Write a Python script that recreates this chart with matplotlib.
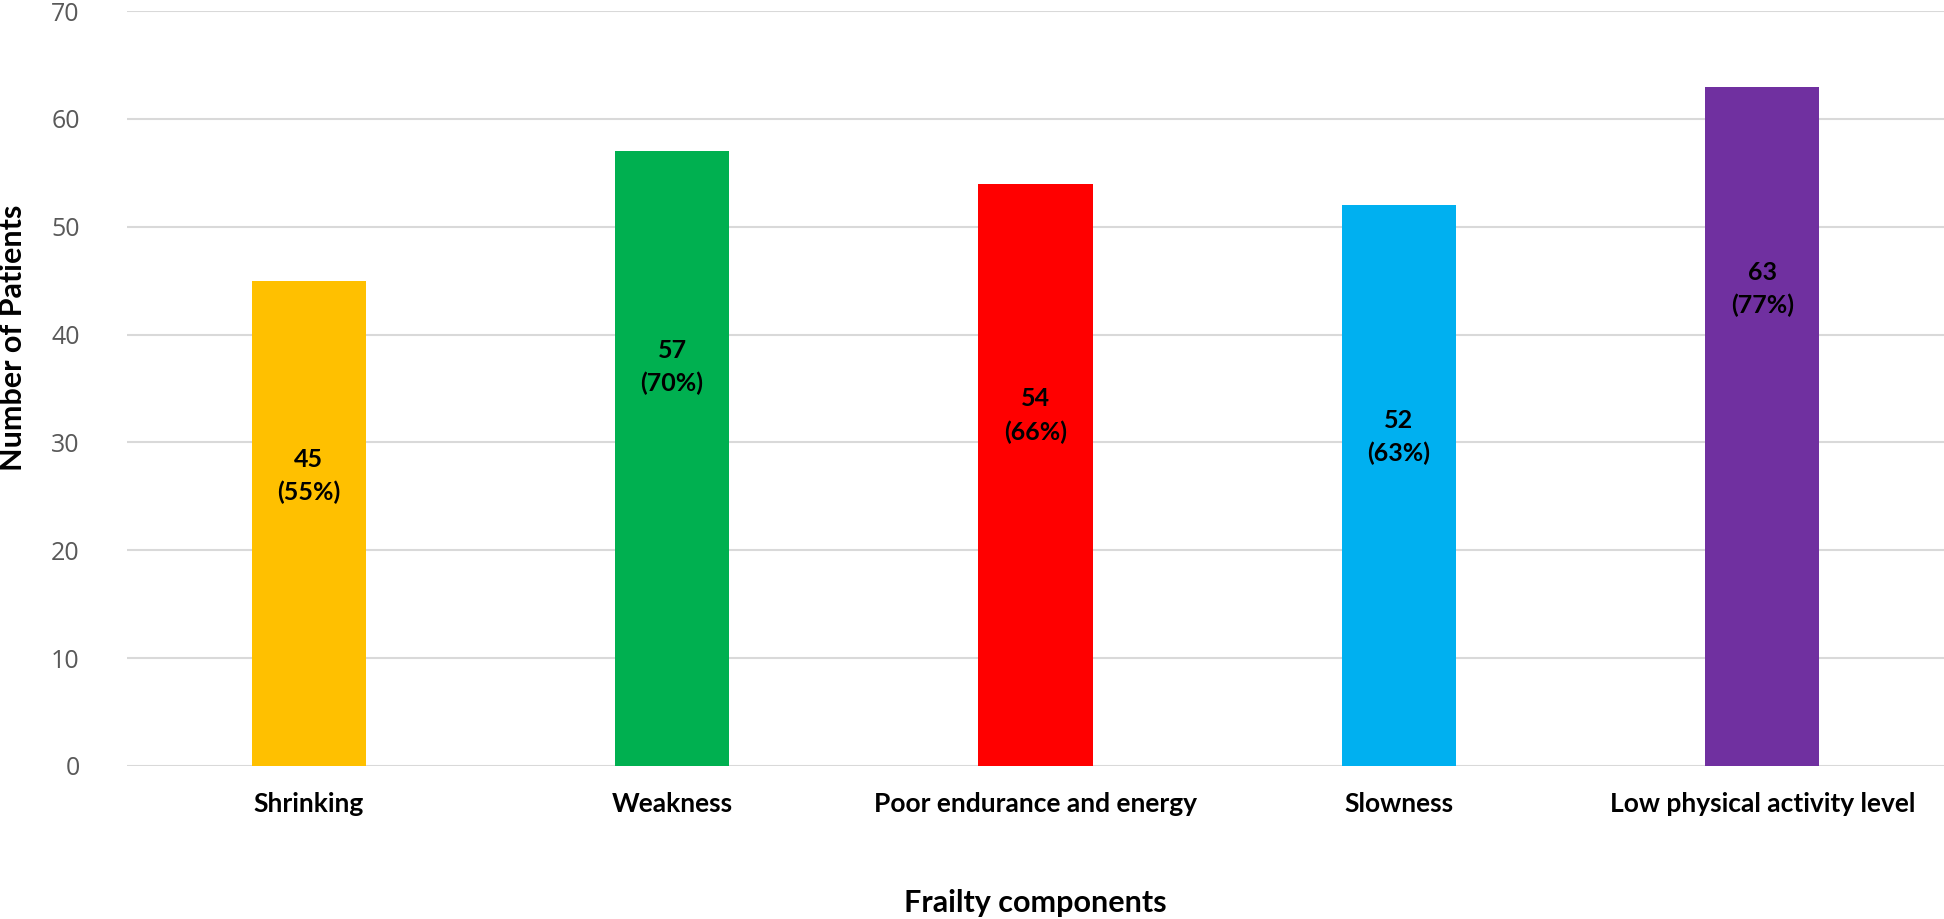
import matplotlib.pyplot as plt

# Frailty components and patient counts
categories = ['Shrinking', 'Weakness', 'Poor endurance and energy', 'Slowness',
              'Low physical activity level']
patients = [45, 57, 54, 52, 63]
percents = ['55%', '70%', '66%', '63%', '77%']
colors = ['#FFC000', '#00B050', '#FF0000', '#00B0F0', '#7030A0']
# where the labels sit inside each bar
label_y = [26.9, 37.0, 32.5, 30.5, 44.2]

fig = plt.figure(figsize=(19.44, 9.19), dpi=100)
ax = fig.add_axes([0.0653, 0.1665, 0.9347, 0.8215])

x = range(len(categories))
ax.bar(x, patients, width=0.314, color=colors, zorder=2)

for i, (v, p) in enumerate(zip(patients, percents)):
    ax.text(i, label_y[i], f'{v}\n({p})', ha='center', va='center',
            fontsize=18, fontweight='bold', family='Lato', linespacing=1.5,
            color='black', zorder=3)

ax.set_xlim(-0.5, 4.5)
ax.set_ylim(0, 70)
ax.set_yticks(range(0, 71, 10))
ax.yaxis.grid(True, color='#D9D9D9', linewidth=1.5, zorder=0)
ax.set_axisbelow(True)
for s in ax.spines.values():
    s.set_visible(False)
ax.tick_params(axis='both', length=0)
ax.tick_params(axis='y', labelsize=18, labelcolor='#595959', pad=34)
ax.tick_params(axis='x', pad=19)

ax.set_xticks(list(x))
ax.set_xticklabels(categories, fontsize=19, fontweight='bold', family='Lato')
for t in ax.get_yticklabels():
    t.set_family('Open Sans')

ax.set_xlabel('Frailty components', fontsize=22, fontweight='bold', family='Lato')
ax.set_ylabel('Number of Patients', fontsize=22, fontweight='bold', family='Lato')
ax.xaxis.set_label_coords(0.5, -0.163)
ax.yaxis.set_label_coords(-0.055, 0.567)

fig.savefig('out.png', dpi=100)
